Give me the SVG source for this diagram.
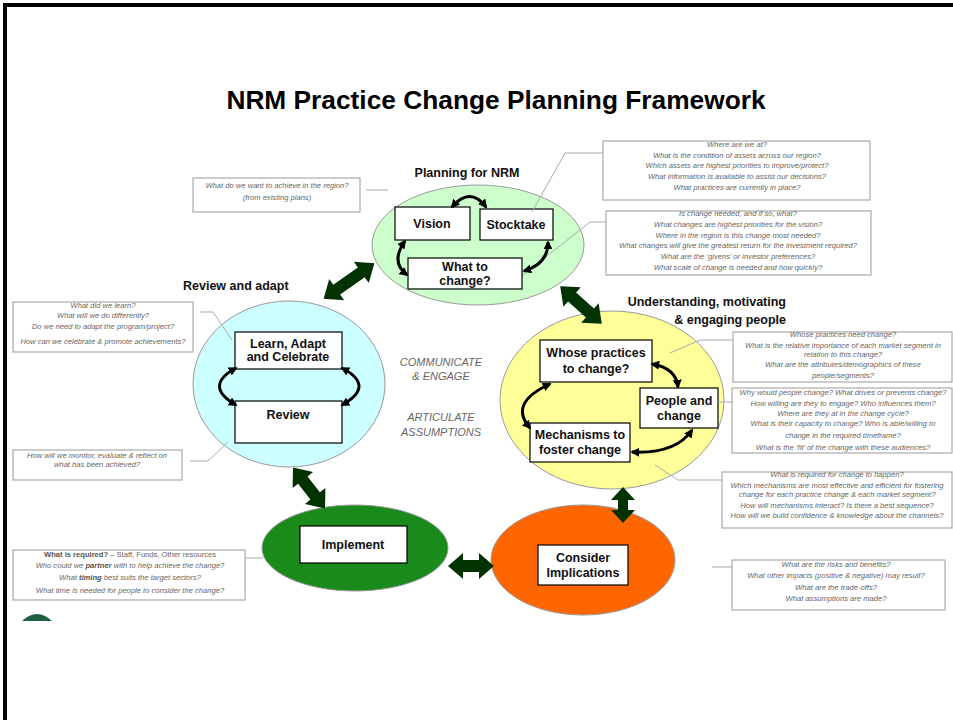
<svg xmlns="http://www.w3.org/2000/svg" width="953" height="720" viewBox="0 0 953 720">
<defs>
<marker id="ah" viewBox="0 0 10 10" refX="8" refY="5" markerWidth="9" markerHeight="9" markerUnits="userSpaceOnUse" orient="auto-start-reverse">
<path d="M0,0 L10,5 L0,10 Z" fill="#000"/>
</marker>
</defs>
<style>
.ttl{font-family:"Liberation Sans",Arial,sans-serif;font-weight:bold;font-size:26.3px;fill:#000}
.lbl{font-family:"Liberation Sans",Arial,sans-serif;font-weight:bold;font-size:12.5px;fill:#111}
.nd{font-family:"Liberation Sans",Arial,sans-serif;font-weight:bold;font-size:12.5px;fill:#111;text-anchor:middle}
.q{font-family:"Liberation Sans",Arial,sans-serif;font-style:italic;font-size:7.6px;fill:#666;text-anchor:middle}
.mid{font-family:"Liberation Sans",Arial,sans-serif;font-style:italic;font-size:11px;fill:#666;text-anchor:middle}
.box{fill:#fff;stroke:#000;stroke-width:1.2}
.qb{fill:#fff;stroke:#aaa;stroke-width:1.2}
.ld{fill:none;stroke:#aaa;stroke-width:1}
.cv{fill:none;stroke:#000;stroke-width:3;marker-start:url(#ah);marker-end:url(#ah)}
.ba{fill:#003300}
.ell{stroke:#999;stroke-width:1}
</style>
<rect x="5" y="5" width="960" height="730" fill="#fff" stroke="#000" stroke-width="4"/>
<text class="ttl" x="496" y="109" text-anchor="middle">NRM Practice Change Planning Framework</text>

<g id="planning">
<ellipse class="ell" cx="478" cy="245" rx="106" ry="60" fill="#ccffcc"/>
<text class="lbl" x="467" y="177" text-anchor="middle">Planning for NRM</text>
<rect class="box" x="395" y="207" width="75" height="33"/>
<text class="nd" x="432" y="228">Vision</text>
<rect class="box" x="480" y="209" width="73" height="31"/>
<text class="nd" x="516" y="229">Stocktake</text>
<rect class="box" x="408" y="258" width="114" height="31"/>
<text class="nd" x="465" y="271">What to</text>
<text class="nd" x="465" y="285">change?</text>
</g>

<g id="review">
<ellipse class="ell" cx="289" cy="384" rx="96" ry="83" fill="#ccffff"/>
<text class="lbl" x="183" y="290">Review and adapt</text>
<rect class="box" x="235" y="332" width="107" height="37"/>
<text class="nd" x="288" y="348">Learn, Adapt</text>
<text class="nd" x="288" y="361">and Celebrate</text>
<rect class="box" x="235" y="401" width="107" height="42"/>
<text class="nd" x="288" y="419">Review</text>
</g>

<g id="understanding">
<ellipse class="ell" cx="612" cy="400" rx="112" ry="89" fill="#ffff99"/>
<text class="lbl" x="786" y="306" text-anchor="end">Understanding, motivating</text>
<text class="lbl" x="786" y="324" text-anchor="end">&amp; engaging people</text>
<rect class="box" x="540" y="340" width="112" height="42"/>
<text class="nd" x="596" y="357">Whose practices</text>
<text class="nd" x="596" y="373">to change?</text>
<rect class="box" x="640" y="388" width="78" height="40"/>
<text class="nd" x="679" y="405">People and</text>
<text class="nd" x="679" y="420">change</text>
<rect class="box" x="530" y="423" width="100" height="39"/>
<text class="nd" x="580" y="439">Mechanisms to</text>
<text class="nd" x="580" y="454">foster change</text>
</g>

<g id="implement">
<ellipse class="ell" cx="355" cy="548" rx="93" ry="43" fill="#1a8a1a"/>
<rect class="box" x="300" y="526" width="107" height="37"/>
<text class="nd" x="353" y="549">Implement</text>
</g>

<g id="consider">
<ellipse class="ell" cx="583" cy="560" rx="92" ry="55" fill="#ff6600"/>
<rect class="box" x="538" y="545" width="90" height="40"/>
<text class="nd" x="583" y="562">Consider</text>
<text class="nd" x="583" y="577">Implications</text>
</g>

<g id="centre-text">
<text class="mid" x="441" y="366">COMMUNICATE</text>
<text class="mid" x="441" y="380">&amp; ENGAGE</text>
<text class="mid" x="441" y="421">ARTICULATE</text>
<text class="mid" x="441" y="436">ASSUMPTIONS</text>
</g>

<g id="q-vision">
<rect class="qb" x="193" y="178" width="167" height="34"/>
<text class="q" x="277" y="188">What do we want to achieve in the region?</text>
<text class="q" x="277" y="200">(from existing plans)</text>
</g>
<g id="q-stocktake">
<rect class="qb" x="603" y="141" width="267" height="59"/>
<text class="q" x="737" y="147">Where are we at?</text>
<text class="q" x="737" y="158">What is the condition of assets across our region?</text>
<text class="q" x="737" y="168">Which assets are highest priorities to improve/protect?</text>
<text class="q" x="737" y="179">What information is available to assist our decisions?</text>
<text class="q" x="737" y="190">What practices are currently in place?</text>
</g>
<g id="q-whattochange">
<rect class="qb" x="606" y="211" width="265" height="64"/>
<text class="q" x="738" y="216">Is change needed, and if so, what?</text>
<text class="q" x="738" y="227">What changes are highest priorities for the vision?</text>
<text class="q" x="738" y="238">Where in the region is this change most needed?</text>
<text class="q" x="738" y="248">What changes will give the greatest return for the investment required?</text>
<text class="q" x="738" y="259">What are the ‘givens’ or investor preferences?</text>
<text class="q" x="738" y="270">What scale of change is needed and how quickly?</text>
</g>
<g id="q-learn">
<rect class="qb" x="13" y="302" width="180" height="50"/>
<text class="q" x="103" y="308">What did we learn?</text>
<text class="q" x="103" y="318">What will we do differently?</text>
<text class="q" x="103" y="329">Do we need to adapt the program/project?</text>
<text class="q" x="103" y="344">How can we celebrate &amp; promote achievements?</text>
</g>
<g id="q-review">
<rect class="qb" x="13" y="450" width="169" height="30"/>
<text class="q" x="97" y="458">How will we monitor, evaluate &amp; reflect on</text>
<text class="q" x="97" y="467">what has been achieved?</text>
</g>
<g id="q-whose">
<rect class="qb" x="733" y="332" width="219" height="50"/>
<text class="q" x="843" y="337">Whose practices need change?</text>
<text class="q" x="843" y="348">What is the relative importance of each market segment in</text>
<text class="q" x="843" y="357">relation to this change?</text>
<text class="q" x="843" y="367">What are the attributes/demographics of these</text>
<text class="q" x="843" y="378">people/segments?</text>
</g>
<g id="q-people">
<rect class="qb" x="732" y="388" width="220" height="65"/>
<text class="q" x="843" y="395">Why would people change? What drives or prevents change?</text>
<text class="q" x="843" y="406">How willing are they to engage? Who influences them?</text>
<text class="q" x="843" y="416">Where are they at in the change cycle?</text>
<text class="q" x="843" y="426">What is their capacity to change?  Who is able/willing to</text>
<text class="q" x="843" y="438">change in the required timeframe?</text>
<text class="q" x="843" y="450">What is the ‘fit’ of the change with these audiences?</text>
</g>
<g id="q-mechanisms">
<rect class="qb" x="722" y="472" width="230" height="56"/>
<text class="q" x="837" y="477">What is required for change to happen?</text>
<text class="q" x="837" y="488">Which mechanisms are most effective and efficient for fostering</text>
<text class="q" x="837" y="497">change for each practice change &amp; each market segment?</text>
<text class="q" x="837" y="508">How will mechanisms interact? Is there a best sequence?</text>
<text class="q" x="837" y="518">How will we build confidence &amp; knowledge about the channels?</text>
</g>
<g id="q-implement">
<rect class="qb" x="13" y="550" width="232" height="50"/>
<text class="q" x="130" y="557"><tspan font-style="normal" font-weight="bold" fill="#555">What is required?</tspan><tspan font-style="normal"> – Staff, Funds, Other resources</tspan></text>
<text class="q" x="130" y="568">Who could we <tspan font-weight="bold" fill="#555">partner</tspan> with to help achieve  the change?</text>
<text class="q" x="130" y="580">What <tspan font-weight="bold" fill="#555">timing</tspan> best suits the target sectors?</text>
<text class="q" x="130" y="593">What time is needed for people to consider the change?</text>
</g>
<g id="q-consider">
<rect class="qb" x="732" y="560" width="213" height="50"/>
<text class="q" x="836" y="567">What are the risks and benefits?</text>
<text class="q" x="836" y="578">What other impacts (positive &amp; negative) may result?</text>
<text class="q" x="836" y="590">What are the trade-offs?</text>
<text class="q" x="836" y="601">What assumptions are made?</text>
</g>

<path d="M22 621 Q37 607 52 621 Z" fill="#1f6040"/>

<g id="connectors">
<polyline class="ld" points="366,190 388,190"/>
<polyline class="ld" points="603,153 565,153 532,212"/>
<polyline class="ld" points="606,222 590,222 523,275"/>
<polyline class="ld" points="200,312 213,312 232,340"/>
<polyline class="ld" points="190,461 208,461 228,442"/>
<polyline class="ld" points="670,353 700,340 733,340"/>
<polyline class="ld" points="718,402 732,402"/>
<polyline class="ld" points="655,465 678,480 722,480"/>
<polyline class="ld" points="245,558 263,558"/>
<polyline class="ld" points="712,567 732,567"/>

<path class="cv" d="M452 207 Q470 186 486 207"/>
<path class="cv" d="M405 241 Q390 262 407 275"/>
<path class="cv" d="M548 242 Q548 264 524 271"/>
<path class="cv" d="M236 368 Q203 386 236 405"/>
<path class="cv" d="M342 368 Q376 386 342 405"/>
<path class="cv" d="M652 364 Q676 368 678 387"/>
<path class="cv" d="M692 430 Q676 454 632 452"/>
<path class="cv" d="M530 428 Q508 403 550 384"/>

<polygon class="ba" transform="translate(349,281) rotate(-35)" points="-31,0 -15,-13 -15,-6 15,-6 15,-13 31,0 15,13 15,6 -15,6 -15,13"/>
<polygon class="ba" transform="translate(581,305) rotate(42)" points="-28,0 -12,-13 -12,-6 12,-6 12,-13 28,0 12,13 12,6 -12,6 -12,13"/>
<polygon class="ba" transform="translate(309,488) rotate(52)" points="-26,0 -10,-13 -10,-6 10,-6 10,-13 26,0 10,13 10,6 -10,6 -10,13"/>
<polygon class="ba" transform="translate(471,566) rotate(0)" points="-23,0 -8,-13 -8,-6 8,-6 8,-13 23,0 8,13 8,6 -8,6 -8,13"/>
<polygon class="ba" transform="translate(623,505) rotate(90)" points="-18,0 -5,-12 -5,-5 5,-5 5,-12 18,0 5,12 5,5 -5,5 -5,12"/>
</g>
</svg>
